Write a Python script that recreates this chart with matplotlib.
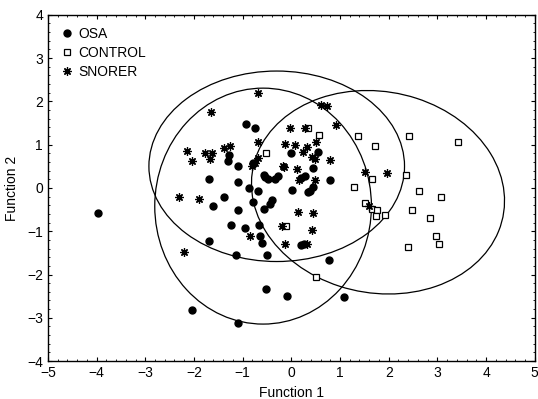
import matplotlib
matplotlib.use("Agg")
import matplotlib.pyplot as plt
from matplotlib.patches import Ellipse
from matplotlib.ticker import MultipleLocator

plt.rcParams['font.family'] = ['Liberation Sans', 'DejaVu Sans']

# discriminant scores
osa_x = [-3.97, -2.03, -1.09, -0.51, -0.08, 1.09, 0.78, -1.13, -0.49, -1.70,
         -1.23, -0.96, -0.66, -0.64, -0.60, 0.20, 0.27, -1.60, -1.10, -1.39,
         -0.78, -0.57, -0.43, -0.39, -1.70, -1.10, -0.86, -0.68, 0.02, 0.35,
         0.45, -0.55, -0.47, -0.33, -0.27, 0.29, 0.20, 0.80, 0.45, 0.00,
         0.55, -1.10, -1.29, -1.31, -0.94, -0.74, -0.78, -0.57, 0.39]
osa_y = [-0.58, -2.82, -3.12, -2.33, -2.49, -2.52, -1.66, -1.55, -1.55, -1.22,
         -0.85, -0.92, -0.85, -1.10, -1.27, -1.32, -1.30, -0.42, -0.50, -0.20,
         -0.32, -0.49, -0.37, -0.28, 0.20, 0.14, 0.00, -0.07, -0.05, -0.09,
         0.02, 0.25, 0.20, 0.20, 0.28, 0.28, 0.23, 0.18, 0.46, 0.81,
         0.83, 0.50, 0.76, 0.62, 1.48, 1.39, 0.58, 0.30, -0.07]

control_x = [-0.53, 0.35, 0.57, 1.37, 2.42, 3.42, 1.72, 2.36, 1.66, 1.29,
             2.62, 3.07, 1.52, 1.66, 1.76, 1.74, 1.93, 2.48, 2.85, 2.97,
             3.03, 2.40, -0.10, 0.51]
control_y = [0.81, 1.38, 1.22, 1.20, 1.20, 1.06, 0.97, 0.30, 0.20, 0.02,
             -0.07, -0.20, -0.35, -0.48, -0.50, -0.65, -0.62, -0.50, -0.70, -1.10,
             -1.29, -1.37, -0.88, -2.05]

snorer_x = [-0.68, -1.66, 0.61, 0.74, 0.92, -0.02, 0.29, 0.51, -0.68, -0.12,
            0.08, 0.33, 0.25, 0.43, 0.49, 0.80, -0.68, -0.80, -0.74, -0.18,
            0.12, -0.16, 0.16, 0.49, 1.52, 1.97, 1.60, 0.14, 0.45, 0.43,
            -0.20, -0.84, -0.14, 0.33, -2.20, -2.30, -1.90, -2.15, -2.03, -1.78,
            -1.62, -1.68, -1.39, -1.25]
snorer_y = [2.19, 1.75, 1.92, 1.89, 1.45, 1.38, 1.38, 1.06, 1.06, 1.02,
            1.00, 0.95, 0.83, 0.72, 0.67, 0.65, 0.69, 0.50, 0.58, 0.50,
            0.44, 0.48, 0.18, 0.18, 0.37, 0.34, -0.42, -0.55, -0.58, -0.97,
            -0.88, -1.10, -1.29, -1.29, -1.48, -0.20, -0.25, 0.85, 0.62, 0.80,
            0.80, 0.67, 0.92, 0.97]

# group ellipses: centre x, centre y, width, height, angle
ell_centre_x = [-0.58, 1.78, -0.30]
ell_centre_y = [-0.42, -0.10, 0.50]
ell_width = [4.45, 5.27, 5.25]
ell_height = [5.45, 4.62, 4.40]
ell_angle = [0, -20, 0]

fig = plt.figure(figsize=(5.38, 3.99), dpi=100)
ax = fig.add_axes([0.089, 0.095, 0.905, 0.868])

for cx, cy, w, h, a in zip(ell_centre_x, ell_centre_y, ell_width, ell_height, ell_angle):
    ax.add_patch(Ellipse((cx, cy), w, h, angle=a, fill=False,
                         edgecolor='black', linewidth=0.9))

ax.plot(osa_x, osa_y, linestyle='none', marker='o', markersize=5,
        color='black', label='OSA')
ax.plot(control_x, control_y, linestyle='none', marker='s', markersize=5,
        markerfacecolor='white', markeredgecolor='black', markeredgewidth=0.9,
        label='CONTROL')
ax.plot(snorer_x, snorer_y, linestyle='none', marker=(8, 2, 0), markersize=6,
        color='black', markeredgewidth=0.9, label='SNORER')

ax.set_xlim(-5, 5)
ax.set_ylim(-4, 4)
ax.xaxis.set_major_locator(MultipleLocator(1))
ax.yaxis.set_major_locator(MultipleLocator(1))
ax.xaxis.set_minor_locator(MultipleLocator(0.2))
ax.yaxis.set_minor_locator(MultipleLocator(0.2))
ax.tick_params(which='both', direction='in', top=True, right=True,
               labelsize=10)
ax.tick_params(which='major', length=3, width=0.8)
ax.tick_params(which='minor', length=1.5, width=0.6)
for s in ax.spines.values():
    s.set_linewidth(1.0)

ax.set_xlabel('Function 1', fontsize=10, labelpad=4)
ax.set_ylabel('Function 2', fontsize=10, labelpad=6)

ax.legend(loc='upper left', frameon=False, fontsize=10, handletextpad=0.3,
          borderaxespad=0.4, labelspacing=0.35, handlelength=1.0,
          borderpad=0.5)

fig.savefig('out.png', dpi=100)
